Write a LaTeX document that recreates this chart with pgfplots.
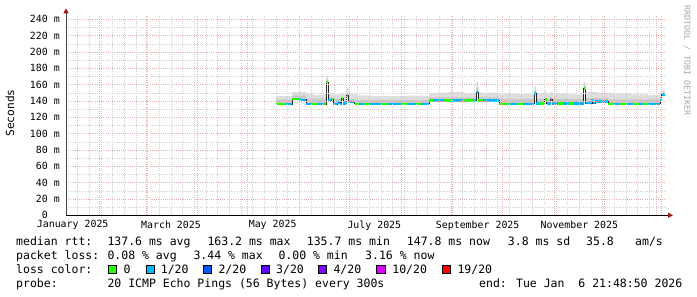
\documentclass[border=0pt]{standalone}
\usepackage{pgfplots}
\pgfplotsset{compat=1.18}
\usepgfplotslibrary{fillbetween}
\usetikzlibrary{arrows.meta}
\usepackage{fontspec}
\setmainfont{DejaVu Sans Mono}
\definecolor{gridgray}{HTML}{D0D0D0}
\definecolor{gridred}{HTML}{E6AFAF}
\definecolor{arrowred}{HTML}{A01818}
\definecolor{smokeL}{HTML}{DEDEDE}
\definecolor{smokeM}{HTML}{C8C8C8}
\definecolor{l0}{HTML}{26FF00}
\definecolor{l1}{HTML}{00B8FF}
\definecolor{l2}{HTML}{0059FF}
\definecolor{l3}{HTML}{5E00FF}
\definecolor{l4}{HTML}{7E00FF}
\definecolor{l10}{HTML}{DD00FF}
\definecolor{l19}{HTML}{FF0000}
\newcommand\tickfont{\fontsize{9.9bp}{11bp}\selectfont}
\newcommand\legfont{\fontsize{11.5bp}{13bp}\selectfont}
\begin{document}
\begin{tikzpicture}
\begin{axis}[
  at={(0,0)}, anchor=south west,
  scale only axis, width=600bp, height=200bp,
  xmin=11, xmax=371, ymin=0, ymax=245,
  axis x line*=bottom, axis y line*=left,
  axis on top,
  x axis line style={black, line width=0.8bp, shorten >=-7bp, -{Triangle[length=5bp,width=5bp,color=arrowred]}},
  y axis line style={black!75, line width=0.8bp, shorten >=-7bp, -{Triangle[length=5bp,width=5bp,color=arrowred]}},
  xtick={31,59,90,120,151,181,212,243,273,304,334,365},
  xticklabels={},
  minor xtick={18,25,...,368},
  extra x ticks={15,74,135,196,258,319},
  extra x tick labels={January 2025,March 2025,May 2025,July 2025,September 2025,November 2025},
  extra x tick style={grid=none, major tick length=0pt},
  ytick={0,20,...,240},
  yticklabels={0\hphantom{mm},20 m,40 m,60 m,80 m,100 m,120 m,140 m,160 m,180 m,200 m,220 m,240 m},
  minor ytick={10,30,...,230},
  grid=both,
  major grid style={gridred, line width=0.6bp, dash pattern=on 1bp off 1.2bp},
  minor grid style={gridgray, line width=0.6bp, dash pattern=on 1bp off 1.2bp},
  major tick length=0pt, minor tick length=0pt,
  /pgf/number format/assume math mode=true,
  ticklabel style={font=\tickfont, inner sep=0pt},
  xticklabel style={anchor=north, yshift=-5bp},
  yticklabel style={anchor=east, xshift=-6bp},
]
% median (lower edge of smoke)
\addplot[const plot, draw=none, name path=M, forget plot] coordinates {
(137.0,136.3) (146.6,142.3) (152.0,141.5) (155.0,136.4) (167.0,163.3) (168.2,141.0)
(170.2,142.5) (171.4,136.4) (173.8,138.3) (175.6,136.4) (176.4,143.0) (177.2,137.0)
(179.4,147.0) (180.4,139.0) (184.2,136.6) (229.0,140.6) (257.2,151.0) (258.4,140.6)
(270.8,136.6) (292.0,149.0) (293.2,137.0) (298.2,142.0) (299.4,137.0) (301.8,142.0)
(302.8,137.0) (321.6,155.5) (322.8,137.3) (326.2,140.5) (327.0,137.3) (328.4,139.2)
(336.2,136.6) (367.4,141.0) (368.4,148.0) (370.4,148.0)};
% outer smoke
\addplot[const plot, draw=none, name path=U1, forget plot] coordinates {
(137.0,146.0) (146.6,151.0) (155.0,149.0) (160.0,147.5) (166.4,150.0) (167.0,171.0)
(168.2,149.5) (172.0,148.0) (176.4,150.0) (177.2,148.0) (179.4,156.0) (180.4,148.5)
(186.0,147.0) (195.0,146.0) (215.0,146.5) (229.0,150.0) (240.0,151.0) (250.0,149.5)
(257.2,163.5) (258.4,150.0) (270.8,148.5) (292.0,158.0) (293.2,149.0) (298.2,152.0)
(299.4,149.0) (301.8,151.0) (302.8,149.0) (312.0,148.0) (321.6,163.5) (322.8,151.0)
(330.0,150.0) (340.0,149.0) (350.0,148.0) (360.0,147.5) (367.4,150.0) (368.4,152.0)
(370.4,152.0)};
% inner smoke
\addplot[const plot, draw=none, name path=U2, forget plot] coordinates {
(137.0,142.0) (146.6,146.5) (155.0,143.0) (167.0,166.0) (168.2,144.5) (172.0,142.5)
(176.4,144.0) (177.2,142.5) (179.4,150.0) (180.4,143.0) (184.2,141.5) (229.0,144.5)
(257.2,157.0) (258.4,144.5) (270.8,142.5) (292.0,153.0) (293.2,142.5) (298.2,144.0)
(299.4,142.5) (301.8,144.0) (302.8,142.5) (321.6,159.0) (322.8,143.5) (336.2,142.0)
(367.4,144.0) (368.4,150.5) (370.4,150.5)};
\addplot[fill=smokeL, draw=none, forget plot] fill between[of=U1 and M];
\addplot[fill=smokeM, draw=none, forget plot] fill between[of=U2 and M];
% median line
\addplot[const plot, black!85, line width=0.8bp, forget plot] coordinates {
(137.0,136.3) (146.6,142.3) (152.0,141.5) (155.0,136.4) (167.0,163.3) (168.2,141.0)
(170.2,142.5) (171.4,136.4) (173.8,138.3) (175.6,136.4) (176.4,143.0) (177.2,137.0)
(179.4,147.0) (180.4,139.0) (184.2,136.6) (229.0,140.6) (257.2,151.0) (258.4,140.6)
(270.8,136.6) (292.0,149.0) (293.2,137.0) (298.2,142.0) (299.4,137.0) (301.8,142.0)
(302.8,137.0) (321.6,155.5) (322.8,137.3) (326.2,140.5) (327.0,137.3) (328.4,139.2)
(336.2,136.6) (367.4,141.0) (368.4,148.0) (370.4,148.0)};
% loss 0/20
\addplot[l0, line width=2.5bp, unbounded coords=jump, forget plot] coordinates {
(137.0,136.3)(143.0,136.3)(143.0,nan)
(146.6,142.3)(150.7,142.3)(150.7,nan)
(158.6,136.4)(162.2,136.4)(162.2,nan)
(165.2,136.4)(167.0,136.4)(167.0,nan)
(167.0,163.3)(168.2,163.3)(168.2,nan)
(170.2,142.5)(171.4,142.5)(171.4,nan)
(176.4,143.0)(177.2,143.0)(177.2,nan)
(179.4,147.0)(180.4,147.0)(180.4,nan)
(184.2,136.6)(187.0,136.6)(187.0,nan)
(190.0,136.6)(193.0,136.6)(193.0,nan)
(200.0,136.6)(204.0,136.6)(204.0,nan)
(212.0,136.6)(216.0,136.6)(216.0,nan)
(221.0,136.6)(224.0,136.6)(224.0,nan)
(229.0,140.6)(231.0,140.6)(231.0,nan)
(238.0,140.6)(242.0,140.6)(242.0,nan)
(249.0,140.6)(255.0,140.6)(255.0,nan)
(258.4,140.6)(261.0,140.6)(261.0,nan)
(270.8,136.6)(277.4,136.6)(277.4,nan)
(281.4,136.6)(285.4,136.6)(285.4,nan)
(295.0,137.0)(298.2,137.0)(298.2,nan)
(298.2,142.0)(299.4,142.0)(299.4,nan)
(306.0,137.0)(309.0,137.0)(309.0,nan)
(313.0,137.0)(316.0,137.0)(316.0,nan)
(321.6,155.5)(322.8,155.5)(322.8,nan)
(336.2,136.6)(340.0,136.6)(340.0,nan)
(343.0,136.6)(348.0,136.6)(348.0,nan)
(351.0,136.6)(355.0,136.6)(355.0,nan)
(357.0,136.6)(360.0,136.6)};
% loss 1/20
\addplot[l1, line width=2.5bp, unbounded coords=jump, forget plot] coordinates {
(143.0,136.3)(146.6,136.3)(146.6,nan)
(150.7,142.3)(152.0,142.3)(152.0,nan)
(152.0,141.5)(155.0,141.5)(155.0,nan)
(155.0,136.4)(158.6,136.4)(158.6,nan)
(162.2,136.4)(165.2,136.4)(165.2,nan)
(168.2,141.0)(170.2,141.0)(170.2,nan)
(171.4,136.4)(173.8,136.4)(173.8,nan)
(173.8,138.3)(175.6,138.3)(175.6,nan)
(175.6,136.4)(176.4,136.4)(176.4,nan)
(177.2,137.0)(179.4,137.0)(179.4,nan)
(180.4,139.0)(184.2,139.0)(184.2,nan)
(187.0,136.6)(190.0,136.6)(190.0,nan)
(193.0,136.6)(200.0,136.6)(200.0,nan)
(204.0,136.6)(212.0,136.6)(212.0,nan)
(216.0,136.6)(221.0,136.6)(221.0,nan)
(224.0,136.6)(229.0,136.6)(229.0,nan)
(231.0,140.6)(238.0,140.6)(238.0,nan)
(242.0,140.6)(249.0,140.6)(249.0,nan)
(255.0,140.6)(257.2,140.6)(257.2,nan)
(257.2,151.0)(258.4,151.0)(258.4,nan)
(261.0,140.6)(270.8,140.6)(270.8,nan)
(277.4,136.6)(281.4,136.6)(281.4,nan)
(285.4,136.6)(292.0,136.6)(292.0,nan)
(292.0,149.0)(293.2,149.0)(293.2,nan)
(293.2,137.0)(295.0,137.0)(295.0,nan)
(299.4,137.0)(301.8,137.0)(301.8,nan)
(301.8,142.0)(302.8,142.0)(302.8,nan)
(302.8,137.0)(306.0,137.0)(306.0,nan)
(309.0,137.0)(313.0,137.0)(313.0,nan)
(316.0,137.0)(321.6,137.0)(321.6,nan)
(322.8,137.3)(326.2,137.3)(326.2,nan)
(326.2,140.5)(327.0,140.5)(327.0,nan)
(327.0,137.3)(328.4,137.3)(328.4,nan)
(328.4,139.2)(336.2,139.2)(336.2,nan)
(340.0,136.6)(343.0,136.6)(343.0,nan)
(348.0,136.6)(351.0,136.6)(351.0,nan)
(355.0,136.6)(357.0,136.6)(357.0,nan)
(360.0,136.6)(367.4,136.6)(367.4,nan)
(367.4,141.0)(368.4,141.0)(368.4,nan)
(368.4,148.0)(370.4,148.0)};
\end{axis}
% y label and watermark
\node[rotate=90, inner sep=0pt, font=\fontsize{11.2bp}{13bp}\selectfont] at (-56bp,102.3bp) {Seconds};
\node[rotate=-90, inner sep=0pt, text=black!35, font=\fontsize{8.3bp}{10bp}\selectfont] at (621bp,155bp) {RRDTOOL / TOBI OETIKER};
% legend text
\begin{scope}[every node/.style={inner sep=0pt, anchor=base west, font=\legfont}]
\node at (-50bp,-30.2bp) {median rtt:};
\node at (41.3bp,-30.2bp) {137.6 ms avg};
\node at (141.3bp,-30.2bp) {163.2 ms max};
\node at (240.7bp,-30.2bp) {135.7 ms min};
\node at (340.7bp,-30.2bp) {147.8 ms now};
\node at (441.7bp,-30.2bp) {3.8 ms sd};
\node at (520bp,-30.2bp) {35.8};
\node at (569bp,-30.2bp) {am/s};
\node at (-50bp,-44.2bp) {packet loss:};
\node at (41.3bp,-44.2bp) {0.08 \% avg};
\node at (127.3bp,-44.2bp) {3.44 \% max};
\node at (212.3bp,-44.2bp) {0.00 \% min};
\node at (299bp,-44.2bp) {3.16 \% now};
\node at (-50bp,-58.2bp) {loss color:};
\node at (57.3bp,-58.2bp) {0};
\node at (94.7bp,-58.2bp) {1/20};
\node at (152.3bp,-58.2bp) {2/20};
\node at (210bp,-58.2bp) {3/20};
\node at (267.3bp,-58.2bp) {4/20};
\node at (326.2bp,-58.2bp) {10/20};
\node at (391.3bp,-58.2bp) {19/20};
\node at (-50bp,-72.2bp) {probe:};
\node at (41.3bp,-72.2bp) {20 ICMP Echo Pings (56 Bytes) every 300s};
\node at (413bp,-72.2bp) {end: Tue Jan\ \ 6 21:48:50 2026};
\end{scope}
\begin{scope}[line width=0.6bp, draw=black]
\draw[fill=l0]  (42.3bp,-58bp) rectangle (50.7bp,-49.6bp);
\draw[fill=l1]  (80bp,-58bp) rectangle (88.4bp,-49.6bp);
\draw[fill=l2]  (137.3bp,-58bp) rectangle (145.7bp,-49.6bp);
\draw[fill=l3]  (195bp,-58bp) rectangle (203.4bp,-49.6bp);
\draw[fill=l4]  (252.3bp,-58bp) rectangle (260.7bp,-49.6bp);
\draw[fill=l10] (310.7bp,-58bp) rectangle (319.1bp,-49.6bp);
\draw[fill=l19] (376.3bp,-58bp) rectangle (384.7bp,-49.6bp);
\end{scope}
\pgfresetboundingbox
\path[use as bounding box] (-66bp,-81.7bp) rectangle (631bp,215.3bp);
\end{tikzpicture}
\end{document}
